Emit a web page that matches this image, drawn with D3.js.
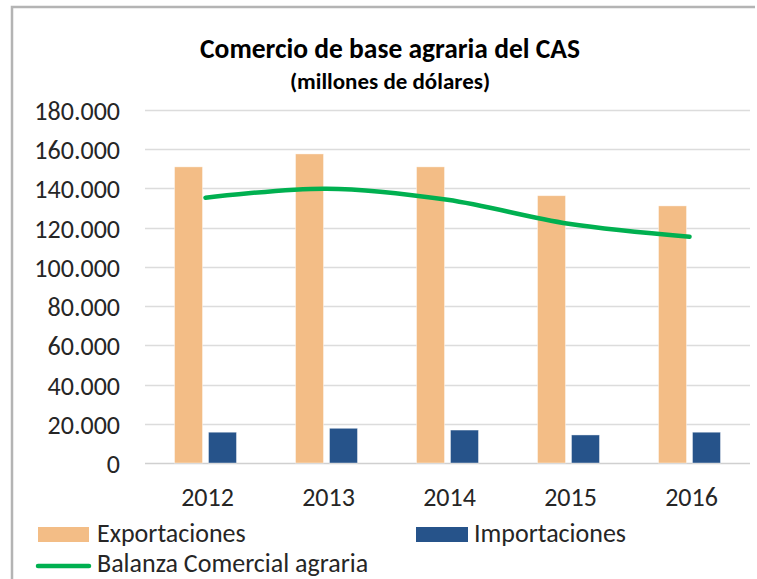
<!DOCTYPE html>
<html>
<head>
<meta charset="utf-8">
<script src="https://cdn.jsdelivr.net/npm/d3@7"></script>
<style>
  body { margin: 0; background: #fff; }
  svg text { font-family: Calibri, Carlito, Lato, sans-serif; }
</style>
</head>
<body>
<svg id="chart" width="757" height="579"></svg>
<script>
// data
var years = ["2012", "2013", "2014", "2015", "2016"];
var exportaciones = [151000, 157600, 151000, 136300, 131100];
var importaciones = [15700, 17700, 16800, 14300, 15700];
var balanza = [135300, 139900, 134200, 122000, 115400];
var yTicks = [0, 20000, 40000, 60000, 80000, 100000, 120000, 140000, 160000, 180000];

var seriesNames = ["Exportaciones", "Importaciones"];
var colors = { Exportaciones: "#F3BD86", Importaciones: "#26538A", line: "#00B050" };

var svg = d3.select("#chart");

var margin = { left: 145, right: 7, top: 110, bottom: 116 };
var width = +svg.attr("width"), height = +svg.attr("height");
var fs = 26; // label font size

// frame (right & bottom edges fall outside the picture)
svg.append("path")
  .attr("d", "M12,579V7H755")
  .attr("fill", "none")
  .attr("stroke", "#B4B4B4")
  .attr("stroke-width", 2.5);

var es = d3.formatLocale({ decimal: ",", thousands: ".", grouping: [3], currency: ["", ""] });
var fmt = es.format(",");

var x0 = d3.scaleBand()
  .domain(years)
  .range([margin.left, width - margin.right])
  .paddingInner(0.488)
  .paddingOuter(0.244);

var x1 = d3.scaleBand()
  .domain(seriesNames)
  .range([0, x0.bandwidth()])
  .paddingInner(0.176);

var y = d3.scaleLinear()
  .domain([0, 180000])
  .range([height - margin.bottom, margin.top]);

// grid
svg.append("g")
  .selectAll("line")
  .data(yTicks)
  .enter().append("line")
  .attr("x1", margin.left)
  .attr("x2", width - margin.right)
  .attr("y1", function(d) { return Math.round(y(d)) + 0.5; })
  .attr("y2", function(d) { return Math.round(y(d)) + 0.5; })
  .attr("stroke", function(d) { return d === 0 ? "#D0D0D0" : "#DCDCDC"; })
  .attr("stroke-width", 1.3);

// y labels
svg.append("g")
  .selectAll("text")
  .data(yTicks)
  .enter().append("text")
  .attr("x", 120)
  .attr("y", function(d) { return y(d) + 10; })
  .attr("text-anchor", "end")
  .attr("font-size", fs)
  .attr("fill", "#262626")
  .text(function(d) { return fmt(d); });

// x labels
svg.append("g")
  .selectAll("text")
  .data(years)
  .enter().append("text")
  .attr("x", function(d) { return x0(d) + x0.bandwidth() / 2 + 2; })
  .attr("y", 506)
  .attr("text-anchor", "middle")
  .attr("font-size", fs)
  .attr("fill", "#262626")
  .text(function(d) { return d; });

// bars
var rows = years.map(function(yr, i) {
  return { year: yr, values: [
    { key: "Exportaciones", value: exportaciones[i] },
    { key: "Importaciones", value: importaciones[i] }
  ] };
});

var groups = svg.append("g")
  .selectAll("g")
  .data(rows)
  .enter().append("g")
  .attr("transform", function(d) { return "translate(" + x0(d.year) + ",0)"; });

groups.selectAll("rect")
  .data(function(d) { return d.values; })
  .enter().append("rect")
  .attr("x", function(d) { return x1(d.key); })
  .attr("y", function(d) { return y(d.value); })
  .attr("width", x1.bandwidth())
  .attr("height", function(d) { return y(0) - y(d.value); })
  .attr("fill", function(d) { return colors[d.key]; })
  .attr("stroke", "#fff")
  .attr("stroke-opacity", 0.5)
  .attr("stroke-width", 0.8);

// smoothed balance line
var line = d3.line()
  .x(function(d, i) { return x0(years[i]) + x0.bandwidth() / 2; })
  .y(function(d) { return y(d); })
  .curve(d3.curveCardinal);

svg.append("path")
  .datum(balanza)
  .attr("d", line)
  .attr("fill", "none")
  .attr("stroke", colors.line)
  .attr("stroke-width", 4.5)
  .attr("stroke-linecap", "round");

// titles
svg.append("text")
  .attr("x", 390)
  .attr("y", 58)
  .attr("text-anchor", "middle")
  .attr("font-size", 27.5)
  .attr("font-weight", "bold")
  .attr("fill", "#000")
  .text("Comercio de base agraria del CAS");

svg.append("text")
  .attr("x", 390)
  .attr("y", 89)
  .attr("text-anchor", "middle")
  .attr("font-size", 23)
  .attr("font-weight", "bold")
  .attr("fill", "#000")
  .text("(millones de dólares)");

// legend
var legend = svg.append("g");
legend.append("rect").attr("x", 38).attr("y", 527).attr("width", 51).attr("height", 15)
  .attr("fill", colors.Exportaciones);
legend.append("text").attr("x", 97).attr("y", 542)
  .attr("font-size", fs).attr("fill", "#262626").text("Exportaciones");

legend.append("rect").attr("x", 416).attr("y", 527).attr("width", 52).attr("height", 15)
  .attr("fill", colors.Importaciones);
legend.append("text").attr("x", 474).attr("y", 542)
  .attr("font-size", fs).attr("fill", "#262626").text("Importaciones");

legend.append("line").attr("x1", 38).attr("x2", 89).attr("y1", 566).attr("y2", 566)
  .attr("stroke", colors.line).attr("stroke-width", 4.5).attr("stroke-linecap", "round");
legend.append("text").attr("x", 97).attr("y", 572)
  .attr("font-size", fs).attr("fill", "#262626").text("Balanza Comercial agraria");
</script>
</body>
</html>
